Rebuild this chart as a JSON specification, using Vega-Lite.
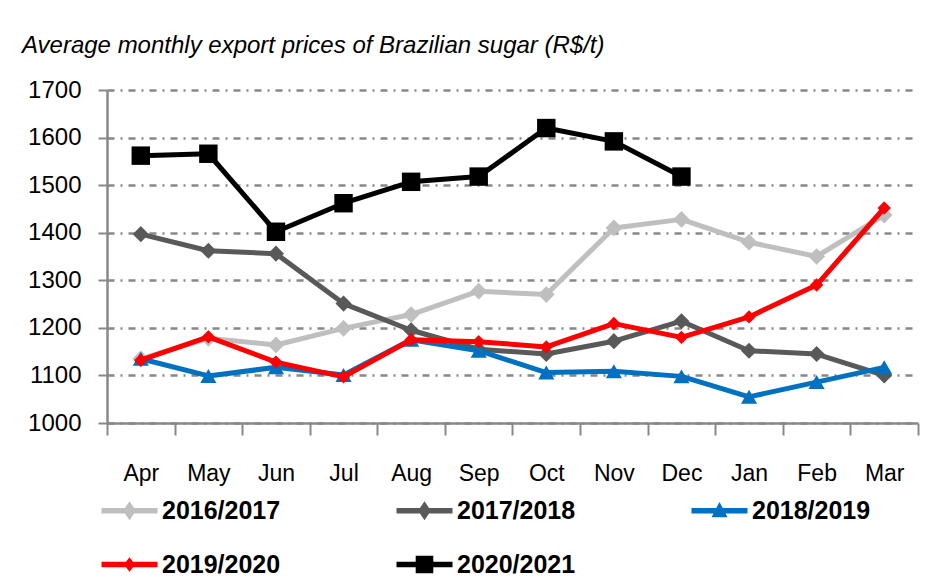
{
  "$schema": "https://vega.github.io/schema/vega-lite/v6.json",
  "autosize": "none",
  "width": 811,
  "height": 333,
  "padding": {"left": 107, "top": 90, "right": 30, "bottom": 164},
  "background": "white",
  "title": {
    "text": "Average monthly export prices of Brazilian sugar (R$/t)",
    "anchor": "start",
    "frame": "group",
    "dx": -85,
    "offset": 1,
    "baseline": "alphabetic",
    "font": "Liberation Sans",
    "fontStyle": "italic",
    "fontWeight": "normal",
    "fontSize": 24,
    "color": "#000000"
  },
  "config": {
    "view": {"stroke": null},
    "axis": {"labelColor": "#000000", "title": null}
  },
  "data": {
    "values": [
      {"season": "2016/2017", "month": "Apr", "price": 1135},
      {"season": "2016/2017", "month": "May", "price": 1178},
      {"season": "2016/2017", "month": "Jun", "price": 1164},
      {"season": "2016/2017", "month": "Jul", "price": 1199},
      {"season": "2016/2017", "month": "Aug", "price": 1228},
      {"season": "2016/2017", "month": "Sep", "price": 1277},
      {"season": "2016/2017", "month": "Oct", "price": 1270},
      {"season": "2016/2017", "month": "Nov", "price": 1410},
      {"season": "2016/2017", "month": "Dec", "price": 1428},
      {"season": "2016/2017", "month": "Jan", "price": 1380},
      {"season": "2016/2017", "month": "Feb", "price": 1350},
      {"season": "2016/2017", "month": "Mar", "price": 1437},
      {"season": "2017/2018", "month": "Apr", "price": 1397},
      {"season": "2017/2018", "month": "May", "price": 1362},
      {"season": "2017/2018", "month": "Jun", "price": 1356},
      {"season": "2017/2018", "month": "Jul", "price": 1251},
      {"season": "2017/2018", "month": "Aug", "price": 1195},
      {"season": "2017/2018", "month": "Sep", "price": 1155},
      {"season": "2017/2018", "month": "Oct", "price": 1145},
      {"season": "2017/2018", "month": "Nov", "price": 1172},
      {"season": "2017/2018", "month": "Dec", "price": 1214},
      {"season": "2017/2018", "month": "Jan", "price": 1152},
      {"season": "2017/2018", "month": "Feb", "price": 1145},
      {"season": "2017/2018", "month": "Mar", "price": 1100},
      {"season": "2018/2019", "month": "Apr", "price": 1135},
      {"season": "2018/2019", "month": "May", "price": 1099},
      {"season": "2018/2019", "month": "Jun", "price": 1117},
      {"season": "2018/2019", "month": "Jul", "price": 1101},
      {"season": "2018/2019", "month": "Aug", "price": 1175},
      {"season": "2018/2019", "month": "Sep", "price": 1152},
      {"season": "2018/2019", "month": "Oct", "price": 1106},
      {"season": "2018/2019", "month": "Nov", "price": 1109},
      {"season": "2018/2019", "month": "Dec", "price": 1098},
      {"season": "2018/2019", "month": "Jan", "price": 1055},
      {"season": "2018/2019", "month": "Feb", "price": 1086},
      {"season": "2018/2019", "month": "Mar", "price": 1117},
      {"season": "2019/2020", "month": "Apr", "price": 1132},
      {"season": "2019/2020", "month": "May", "price": 1181},
      {"season": "2019/2020", "month": "Jun", "price": 1128},
      {"season": "2019/2020", "month": "Jul", "price": 1097},
      {"season": "2019/2020", "month": "Aug", "price": 1175},
      {"season": "2019/2020", "month": "Sep", "price": 1171},
      {"season": "2019/2020", "month": "Oct", "price": 1160},
      {"season": "2019/2020", "month": "Nov", "price": 1209},
      {"season": "2019/2020", "month": "Dec", "price": 1180},
      {"season": "2019/2020", "month": "Jan", "price": 1223},
      {"season": "2019/2020", "month": "Feb", "price": 1290},
      {"season": "2019/2020", "month": "Mar", "price": 1452},
      {"season": "2020/2021", "month": "Apr", "price": 1562},
      {"season": "2020/2021", "month": "May", "price": 1566},
      {"season": "2020/2021", "month": "Jun", "price": 1402},
      {"season": "2020/2021", "month": "Jul", "price": 1462},
      {"season": "2020/2021", "month": "Aug", "price": 1507},
      {"season": "2020/2021", "month": "Sep", "price": 1518},
      {"season": "2020/2021", "month": "Oct", "price": 1620},
      {"season": "2020/2021", "month": "Nov", "price": 1592},
      {"season": "2020/2021", "month": "Dec", "price": 1518}
    ]
  },
  "encoding": {
    "x": {
      "field": "month",
      "type": "nominal",
      "bandPosition": 0.5,
      "sort": ["Apr", "May", "Jun", "Jul", "Aug", "Sep", "Oct", "Nov", "Dec", "Jan", "Feb", "Mar"],
      "scale": {"type": "band", "paddingInner": 0, "paddingOuter": 0},
      "axis": {
        "labelAngle": 0,
        "tickBand": "extent",
        "tickSize": 12,
        "tickWidth": 2,
        "tickColor": "#888888",
        "domainColor": "#888888",
        "domainWidth": 2.5,
        "labelPadding": 27,
        "labelFont": "Liberation Sans",
        "labelFontSize": 23,
        "grid": false
      }
    },
    "y": {
      "field": "price",
      "type": "quantitative",
      "scale": {"domain": [1000, 1700], "nice": false, "zero": false},
      "axis": {
        "values": [1000, 1100, 1200, 1300, 1400, 1500, 1600, 1700],
        "format": "d",
        "grid": true,
        "gridColor": "#888888",
        "gridWidth": 2.5,
        "gridDash": [7, 6, 2, 6],
        "tickSize": 9,
        "tickWidth": 2,
        "tickColor": "#888888",
        "domainColor": "#888888",
        "domainWidth": 2.5,
        "labelPadding": 17,
        "labelFont": "Liberation Sans",
        "labelFontSize": 24
      }
    },
    "color": {
      "field": "season",
      "type": "nominal",
      "scale": {
        "domain": ["2016/2017", "2017/2018", "2018/2019", "2019/2020", "2020/2021"],
        "range": ["#BFBFBF", "#595959", "#0070C0", "#FF0000", "#000000"]
      },
      "legend": {
        "orient": "none",
        "legendX": -10,
        "legendY": 408,
        "columns": 3,
        "direction": "horizontal",
        "gridAlign": "all",
        "columnPadding": 111,
        "rowPadding": 28,
        "title": null,
        "symbolSize": 256,
        "labelOffset": 40,
        "labelFont": "Liberation Sans",
        "labelFontWeight": "bold",
        "labelFontSize": 25,
        "labelColor": "#000000",
        "labelLimit": 300,
        "encode": {
          "symbols": {
            "update": {
              "shape": {"signal": "datum.value === '2018/2019' ? 'M-1,-0.35H6V0.35H-1Z M2.5,-1.1L3.5,0.8L1.5,0.8Z' : datum.value === '2020/2021' ? 'M-1,-0.35H6V0.35H-1Z M1.4,-1.1H3.6V1.1H1.4Z' : datum.value === '2019/2020' ? 'M-1,-0.35H6V0.35H-1Z M2.5,-0.9L3.2,0L2.5,0.9L1.8,0Z' : 'M-1,-0.35H6V0.35H-1Z M2.5,-1.2L3.3,0L2.5,1.2L1.7,0Z'"},
              "fill": {"signal": "scale('color', datum.value)"},
              "stroke": {"value": "transparent"},
              "strokeWidth": {"value": 0},
              "size": {"value": 256},
              "opacity": {"value": 1}
            }
          }
        }
      }
    }
  },
  "layer": [
    {"transform": [{"filter": "datum.season === '2016/2017'"}], "mark": {"type": "line", "strokeWidth": 5, "strokeJoin": "round"}, "encoding": {}},
    {"transform": [{"filter": "datum.season === '2016/2017'"}], "mark": {"type": "point", "filled": true, "opacity": 1, "shape": "diamond", "size": 280}, "encoding": {}},
    {"transform": [{"filter": "datum.season === '2017/2018'"}], "mark": {"type": "line", "strokeWidth": 5, "strokeJoin": "round"}, "encoding": {}},
    {"transform": [{"filter": "datum.season === '2017/2018'"}], "mark": {"type": "point", "filled": true, "opacity": 1, "shape": "diamond", "size": 260}, "encoding": {}},
    {"transform": [{"filter": "datum.season === '2018/2019'"}], "mark": {"type": "line", "strokeWidth": 5, "strokeJoin": "round"}, "encoding": {}},
    {"transform": [{"filter": "datum.season === '2018/2019'"}], "mark": {"type": "point", "filled": true, "opacity": 1, "shape": "triangle-up", "size": 260}, "encoding": {}},
    {"transform": [{"filter": "datum.season === '2019/2020'"}], "mark": {"type": "line", "strokeWidth": 5, "strokeJoin": "round"}, "encoding": {}},
    {"transform": [{"filter": "datum.season === '2019/2020'"}], "mark": {"type": "point", "filled": true, "opacity": 1, "shape": "diamond", "size": 180}, "encoding": {}},
    {"transform": [{"filter": "datum.season === '2020/2021'"}], "mark": {"type": "line", "strokeWidth": 5, "strokeJoin": "round"}, "encoding": {}},
    {"transform": [{"filter": "datum.season === '2020/2021'"}], "mark": {"type": "point", "filled": true, "opacity": 1, "shape": "square", "size": 340}, "encoding": {}}
  ]
}
